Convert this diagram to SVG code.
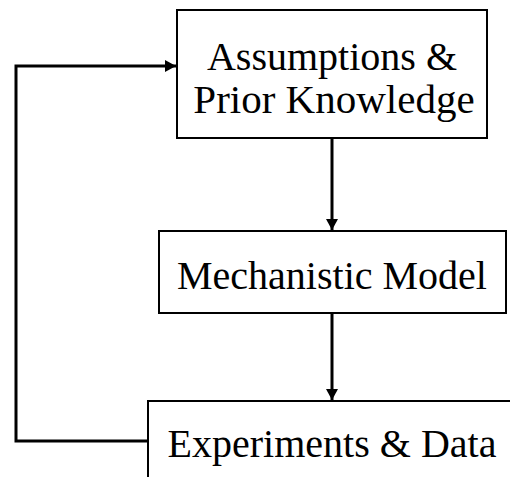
<svg xmlns="http://www.w3.org/2000/svg" width="510" height="477" viewBox="0 0 510 477">
  <defs>
    <marker id="arrow" markerUnits="userSpaceOnUse" markerWidth="12" markerHeight="12" refX="11" refY="6" orient="auto">
      <path d="M0,0 L11,6 L0,12 z" fill="#000"/>
    </marker>
  </defs>
  <style>
    .box { fill: #fff; stroke: #000; stroke-width: 2; }
    .lbl { font-family: "Liberation Serif", "Times New Roman", serif; font-size: 40px; fill: #000; text-anchor: middle; }
    .conn { fill: none; stroke: #000; stroke-width: 3; }
  </style>
  <rect width="510" height="477" fill="#fff"/>
  <g id="connectors">
    <path class="conn" d="M332,138 L332,230" marker-end="url(#arrow)"/>
    <path class="conn" d="M332,313 L332,400" marker-end="url(#arrow)"/>
    <path class="conn" d="M148,441 L16,441 L16,66 L176,66" marker-end="url(#arrow)"/>
  </g>
  <g id="assumptions">
    <rect class="box" x="177" y="10" width="310" height="128"/>
    <text class="lbl" x="332" y="70">Assumptions &amp;</text>
    <text class="lbl" x="334" y="113" style="font-size:41px">Prior Knowledge</text>
  </g>
  <g id="model">
    <rect class="box" x="159" y="231" width="347" height="82"/>
    <text class="lbl" x="332" y="289">Mechanistic Model</text>
  </g>
  <g id="experiments">
    <rect class="box" x="148" y="401" width="400" height="100"/>
    <text class="lbl" x="332" y="457">Experiments &amp; Data</text>
  </g>
</svg>
